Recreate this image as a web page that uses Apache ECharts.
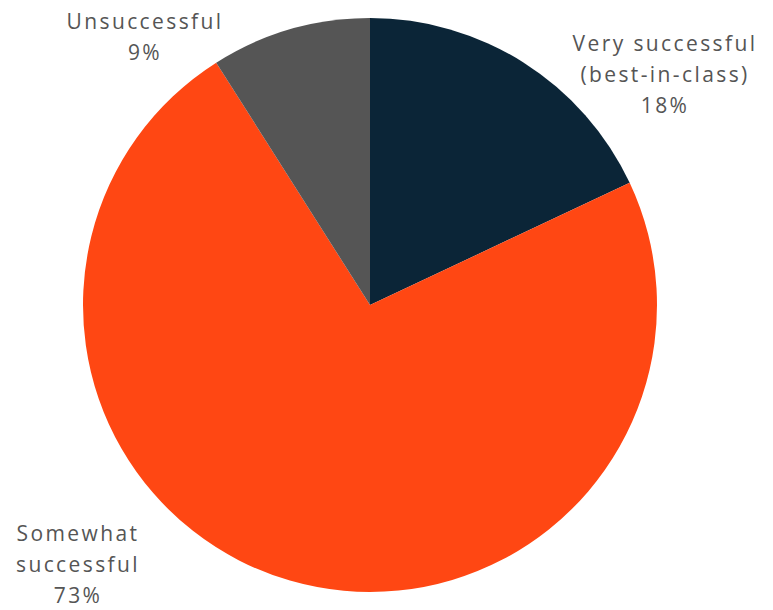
<!DOCTYPE html>
<html>
<head>
<meta charset="utf-8">
<script src="https://cdn.jsdelivr.net/npm/echarts@6/dist/echarts.min.js"></script>
<style>
  html, body { margin: 0; padding: 0; background: #fff; }
  #chart { width: 773px; height: 610px; }
  /* the reference labels are tracked out a little */
  #chart text { letter-spacing: 2.4px; }
</style>
</head>
<body>
<div id="chart"></div>
<script>
const categories = ["Very successful\n(best-in-class)", "Somewhat\nsuccessful", "Unsuccessful"];
const values = [18, 73, 9];
const colors = ["#0b2537", "#ff4713", "#555555"];
// label anchor (center of text block) for each slice
const labelSpots = [[665, 74], [78, 564], [145, 36]];

const chart = echarts.init(document.getElementById("chart"), null, { renderer: "svg" });

chart.setOption({
  animation: false,
  series: [
    {
      type: "pie",
      center: [370, 305],
      radius: [0, 287],
      startAngle: 90,
      clockwise: true,
      data: categories.map((name, i) => ({
        name: name,
        value: values[i],
        itemStyle: { color: colors[i] },
      })),
      label: {
        show: true,
        position: "outside",
        formatter: (p) => p.name + "\n" + p.value + "%",
        color: "#555555",
        fontFamily: "Open Sans",
        fontSize: 21,
        lineHeight: 31,
        align: "center",
        verticalAlign: "middle",
      },
      labelLine: { show: false },
      labelLayout: (params) => {
        const spot = labelSpots[params.dataIndex];
        return { x: spot[0], y: spot[1], align: "center", verticalAlign: "middle" };
      },
    },
  ],
});
</script>
</body>
</html>
